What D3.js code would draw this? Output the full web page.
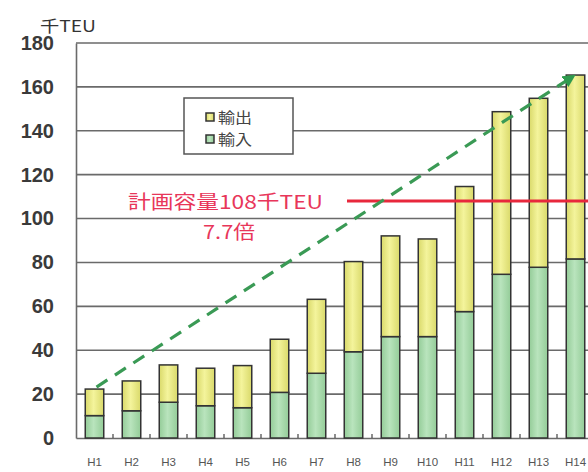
<!DOCTYPE html>
<html>
<head>
<meta charset="utf-8">
<script src="https://cdn.jsdelivr.net/npm/d3@7/dist/d3.min.js"></script>
<style>
  html, body { margin: 0; padding: 0; background: #fff; }
  svg { display: block; }
</style>
</head>
<body>
<svg id="chart" width="588" height="472"></svg>
<script>
// Container throughput by fiscal year (thousand TEU)
const categories = ["H1","H2","H3","H4","H5","H6","H7","H8","H9","H10","H11","H12","H13","H14"];
const imports = [10.2, 12.4, 16.3, 14.7, 13.8, 20.8, 29.5, 39.3, 46.2, 46.2, 57.6, 74.6, 77.8, 81.6];
const exports = [12.1, 13.6, 17.0, 17.1, 19.2, 24.2, 33.7, 41.1, 45.9, 44.5, 57.0, 74.1, 77.0, 83.8];
const yTicks = [0, 20, 40, 60, 80, 100, 120, 140, 160, 180];
const capacity = 108;
const seriesNames = ["輸出", "輸入"];

const svg = d3.select("#chart");
const cjk = "'Noto Sans CJK JP', sans-serif";
const latin = "'Liberation Sans', Arial, sans-serif";

const plotLeft = 76, plotTop = 43, plotBottom = 438;
const step = 37;
const x = d3.scaleBand().domain(categories)
  .range([plotLeft, plotLeft + step * categories.length]).paddingInner(0.5).paddingOuter(0.25);
const y = d3.scaleLinear().domain([0, 180]).range([plotBottom, plotTop]);

// gradients for bar fill
const defs = svg.append("defs");
function grad(id, edge, mid) {
  const g = defs.append("linearGradient").attr("id", id).attr("x1", 0).attr("x2", 1);
  g.append("stop").attr("offset", "0%").attr("stop-color", edge);
  g.append("stop").attr("offset", "45%").attr("stop-color", mid);
  g.append("stop").attr("offset", "100%").attr("stop-color", edge);
}
grad("gYellow", "#d9d96a", "#f4f49c");
grad("gGreen", "#94cc98", "#b9e4bd");
defs.append("marker").attr("id", "arrow").attr("viewBox", "0 0 10 10")
  .attr("refX", 8).attr("refY", 5).attr("markerWidth", 4).attr("markerHeight", 4)
  .attr("orient", "auto")
  .append("path").attr("d", "M0,0 L10,5 L0,10 z").attr("fill", "#2f9a4e");

// horizontal grid
svg.append("g").selectAll("line").data(yTicks.filter(d => d > 0)).join("line")
  .attr("x1", plotLeft).attr("x2", 588)
  .attr("y1", d => y(d)).attr("y2", d => y(d))
  .attr("stroke", "#6a6a6a").attr("stroke-width", 1.6);

// y axis
const yAxis = svg.append("g").attr("transform", `translate(${plotLeft},0)`)
  .call(d3.axisLeft(y).tickValues(yTicks).tickSize(0).tickPadding(22));
yAxis.select(".domain").attr("stroke", "#6a6a6a").attr("stroke-width", 1.6);
yAxis.selectAll("text").attr("font-family", latin).attr("font-size", 20)
  .attr("font-weight", "bold").attr("fill", "#3a3a3a");

// x axis baseline, ticks between categories and labels
const xAxis = svg.append("g").attr("transform", `translate(0,${plotBottom})`)
  .call(d3.axisBottom(x).tickSize(0).tickPadding(20));
xAxis.select(".domain").attr("stroke", "#6a6a6a").attr("stroke-width", 1.6);
xAxis.selectAll("text").attr("font-family", latin).attr("font-size", 11.5).attr("fill", "#555");
svg.append("g").selectAll("line").data(categories.slice(1)).join("line")
  .attr("x1", d => x(d) - x.step() * 0.25).attr("x2", d => x(d) - x.step() * 0.25)
  .attr("y1", plotBottom - 4).attr("y2", plotBottom)
  .attr("stroke", "#444").attr("stroke-width", 1.2);

// stacked bars
const rows = categories.map((c, i) => ({ c, imp: imports[i], exp: exports[i] }));
const bars = svg.append("g");
bars.selectAll(".imp").data(rows).join("rect").attr("class", "imp")
  .attr("x", d => x(d.c)).attr("width", x.bandwidth())
  .attr("y", d => y(d.imp)).attr("height", d => y(0) - y(d.imp))
  .attr("fill", "url(#gGreen)").attr("stroke", "#333").attr("stroke-width", 1.5);
bars.selectAll(".exp").data(rows).join("rect").attr("class", "exp")
  .attr("x", d => x(d.c)).attr("width", x.bandwidth())
  .attr("y", d => y(d.imp + d.exp)).attr("height", d => y(d.imp) - y(d.imp + d.exp))
  .attr("fill", "url(#gYellow)").attr("stroke", "#333").attr("stroke-width", 1.5);

// planned capacity line
svg.append("line")
  .attr("x1", 347).attr("x2", 588).attr("y1", y(capacity)).attr("y2", y(capacity))
  .attr("stroke", "#e8283c").attr("stroke-width", 3);
svg.append("text").attr("x", 128).attr("y", 209)
  .attr("font-family", cjk).attr("font-size", 19).attr("fill", "#e8365a")
  .attr("textLength", 195).attr("lengthAdjust", "spacingAndGlyphs")
  .text("計画容量" + capacity + "千TEU");
svg.append("text").attr("x", 229).attr("y", 239).attr("text-anchor", "middle")
  .attr("font-family", cjk).attr("font-size", 19).attr("fill", "#e8365a")
  .attr("textLength", 52).attr("lengthAdjust", "spacingAndGlyphs")
  .text("7.7倍");

// growth arrow
const first = rows[0], last = rows[rows.length - 1];
svg.append("line")
  .attr("x1", x(first.c) + x.bandwidth() / 2 + 2).attr("y1", y(first.imp + first.exp) - 2)
  .attr("x2", x(last.c) + x.bandwidth() / 2 - 2).attr("y2", y(last.imp + last.exp) + 1)
  .attr("stroke", "#3a9a55").attr("stroke-width", 3.2)
  .attr("stroke-dasharray", "13,9").attr("marker-end", "url(#arrow)");

// legend
const lg = svg.append("g");
lg.append("rect").attr("x", 184).attr("y", 98).attr("width", 109).attr("height", 56)
  .attr("fill", "#fff").attr("stroke", "#555").attr("stroke-width", 1.5);
const swatch = ["url(#gYellow)", "url(#gGreen)"];
seriesNames.forEach((n, i) => {
  const cy = 117 + i * 22;
  lg.append("rect").attr("x", 206).attr("y", cy - 4).attr("width", 8).attr("height", 8)
    .attr("fill", swatch[i]).attr("stroke", "#333").attr("stroke-width", 1.5);
  lg.append("text").attr("x", 218).attr("y", cy + 5.5)
    .attr("font-family", cjk).attr("font-size", 14.5).attr("fill", "#444")
    .attr("textLength", 34).attr("lengthAdjust", "spacingAndGlyphs").text(n);
});

// unit label
svg.append("text").attr("x", 40).attr("y", 32)
  .attr("font-family", cjk).attr("font-size", 16).attr("fill", "#333")
  .attr("textLength", 56).attr("lengthAdjust", "spacingAndGlyphs")
  .text("千TEU");
</script>
</body>
</html>
